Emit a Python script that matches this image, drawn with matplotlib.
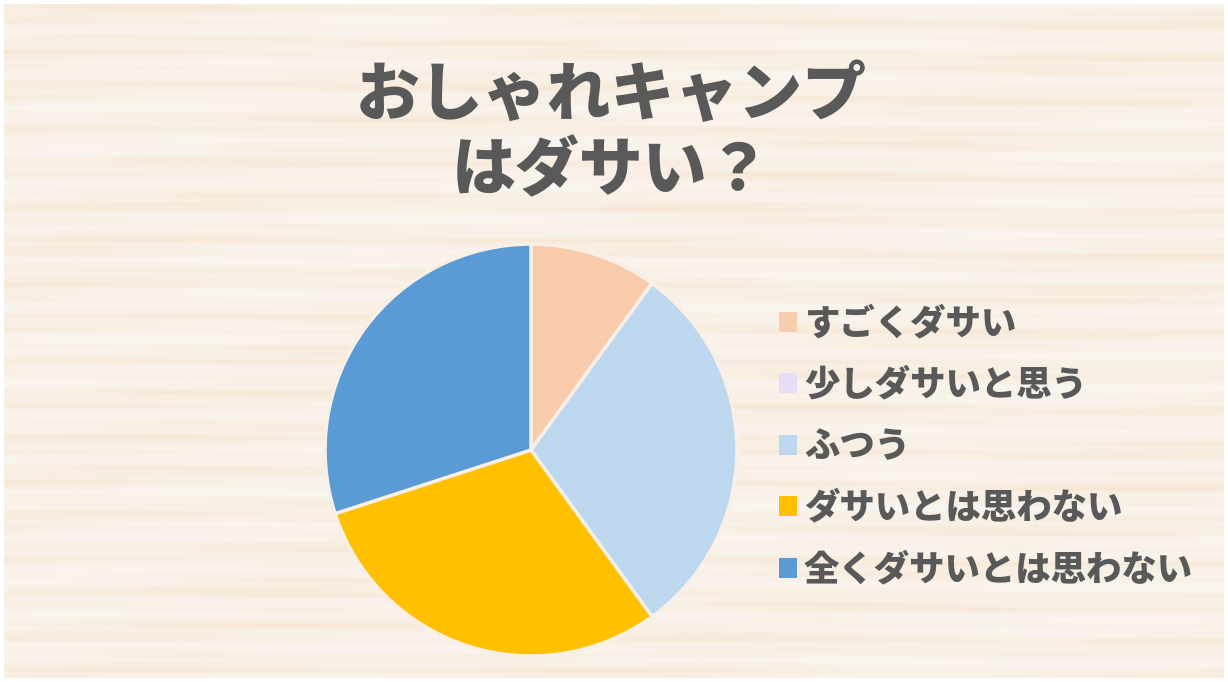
import numpy as np
import matplotlib
matplotlib.use("Agg")
import matplotlib.pyplot as plt

plt.rcParams['font.family'] = ['Noto Sans CJK JP', 'DejaVu Sans']

# ---- data ----
title_line1 = "おしゃれキャンプ"
title_line2 = "はダサい？"
categories = ["すごくダサい", "少しダサいと思う", "ふつう", "ダサいとは思わない", "全くダサいとは思わない"]
values = [10, 0, 30, 30, 30]
colors = ["#F8CBAD", "#E6DDF9", "#BDD7EE", "#FFC000", "#5B9BD5"]

W, H = 1228, 682
fig = plt.figure(figsize=(W / 100, H / 100), dpi=100, facecolor="white")

# ---- wood-like streak background (deterministic) ----
bg = fig.add_axes([4 / W, 4 / H, (W - 8) / W, (H - 8) / H])
yy = np.linspace(0, 1, 340)[:, None]
xx = np.linspace(0, 1, 600)[None, :]
t = (0.40 * np.sin(2 * np.pi * (yy * 17.3 + 0.25 * np.sin(2 * np.pi * xx * 0.9)))
     + 0.30 * np.sin(2 * np.pi * (yy * 43.7 + 0.15 * np.sin(2 * np.pi * xx * 1.7 + 1.0)))
     + 0.20 * np.sin(2 * np.pi * (yy * 89.1 + 0.10 * np.cos(2 * np.pi * xx * 2.3)))
     + 0.15 * np.sin(2 * np.pi * (xx * 2.2 + yy * 3.1)))
t = (t - t.min()) / (t.max() - t.min())
t = t ** 1.6
c_light = np.array([250, 245, 240]) / 255
c_dark = np.array([246, 231, 211]) / 255
img = c_light[None, None, :] * (1 - t[..., None]) + c_dark[None, None, :] * t[..., None]
bg.imshow(img, aspect="auto", extent=[0, 1, 0, 1], interpolation="bilinear")
bg.set_axis_off()

# ---- title ----
fig.text(611 / W, 1 - 96 / H, title_line1, ha="center", va="center", fontsize=46,
         fontweight="black", color="#595959")
fig.text(611 / W, 1 - 172 / H, title_line2, ha="center", va="center", fontsize=46,
         fontweight="black", color="#595959")

# ---- pie ----
cx, cy, r = 531, 450, 208
ax = fig.add_axes([(cx - r) / W, (H - cy - r) / H, 2 * r / W, 2 * r / H])
wedges, _ = ax.pie(values, colors=colors, startangle=90, counterclock=False, radius=1,
                   wedgeprops=dict(edgecolor="#F8EFE6", linewidth=2.5))
ax.set_xlim(-1.01, 1.01)
ax.set_ylim(-1.01, 1.01)
ax.set_aspect("equal")
ax.set_axis_off()

# ---- legend ----
leg = fig.legend(wedges, categories, loc="upper left",
                 bbox_to_anchor=(765 / W, 1 - 291 / H), frameon=False,
                 fontsize=25.5, handlelength=0.5, handleheight=0.5,
                 handletextpad=0.2, labelspacing=0.72, borderaxespad=0)
for txt in leg.get_texts():
    txt.set_color("#595959")
    txt.set_fontweight("black")
for h in leg.legend_handles:
    h.set_edgecolor("none")

fig.savefig("out.png", dpi=100, facecolor="white")
